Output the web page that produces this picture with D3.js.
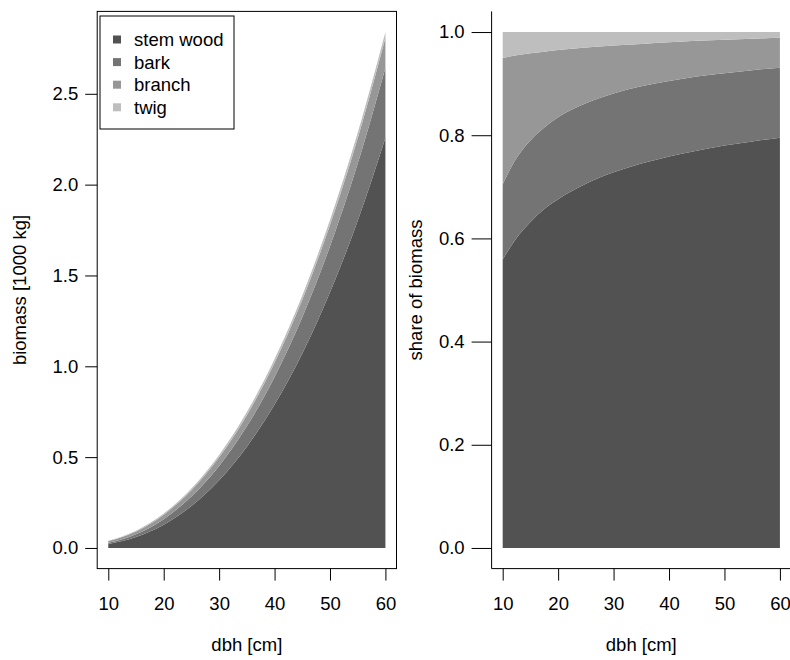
<!DOCTYPE html>
<html>
<head>
<meta charset="utf-8">
<script src="https://cdn.jsdelivr.net/npm/d3@7"></script>
<style>
  html, body { margin: 0; padding: 0; background: #fff; }
  svg { display: block; font-family: "Liberation Sans", Arial, Helvetica, sans-serif; }
</style>
</head>
<body>
<svg id="chart" width="790" height="660"></svg>
<script>
// ---- data ----
const dbh            = [10, 12.5, 15, 17.5, 20, 25, 30, 35, 40, 45, 50, 55, 60];
// total above-ground biomass [1000 kg]
const totalBiomass   = [0.040, 0.063, 0.095, 0.137, 0.190, 0.328, 0.512, 0.748, 1.040, 1.390, 1.805, 2.285, 2.840];
// share of each compartment in total biomass
const stemWoodShare  = [0.559, 0.601, 0.632, 0.657, 0.676, 0.706, 0.728, 0.745, 0.759, 0.770, 0.780, 0.788, 0.795];
const barkShare      = [0.146, 0.155, 0.158, 0.158, 0.159, 0.156, 0.153, 0.150, 0.146, 0.144, 0.140, 0.138, 0.136];
const branchShare    = [0.245, 0.199, 0.169, 0.147, 0.130, 0.108, 0.093, 0.082, 0.075, 0.069, 0.065, 0.061, 0.058];
const twigShare      = [0.050, 0.045, 0.041, 0.038, 0.035, 0.030, 0.026, 0.023, 0.020, 0.017, 0.015, 0.013, 0.011];
const seriesNames  = ["stem wood", "bark", "branch", "twig"];
const seriesColors = ["#525252", "#747474", "#979797", "#bebebe"];
const xTicks = [10, 20, 30, 40, 50, 60];
const yTicksLeft = [0, 0.5, 1, 1.5, 2, 2.5];
const yTicksLeftLabels = ["0.0", "0.5", "1.0", "1.5", "2.0", "2.5"];
const yTicksRight = [0, 0.2, 0.4, 0.6, 0.8, 1];
const yTicksRightLabels = ["0.0", "0.2", "0.4", "0.6", "0.8", "1.0"];

(function () {
const shares = [stemWoodShare, barkShare, branchShare, twigShare];
const absRows = dbh.map((d, i) => {
  const r = { dbh: d };
  seriesNames.forEach((k, j) => { r[k] = shares[j][i] * totalBiomass[i]; });
  return r;
});
const relRows = dbh.map((d, i) => {
  const r = { dbh: d };
  seriesNames.forEach((k, j) => { r[k] = shares[j][i]; });
  return r;
});

const svg = d3.select("#chart");
const FS = 18.5;

// ---------- panel geometry ----------
const pTop = 11.4, pBottom = 568.6;
const L = { left: 97.2, right: 396.5 };
const R = { left: 491.6, right: 791 };

const xr = d3.extent(dbh), xpad = 0.04 * (xr[1] - xr[0]);
const xL = d3.scaleLinear().domain([xr[0] - xpad, xr[1] + xpad]).range([L.left, L.right]);
const xR = d3.scaleLinear().domain([xr[0] - xpad, xr[1] + xpad]).range([R.left, R.right]);

const stackAbs = d3.stack().keys(seriesNames)(absRows);
const ymax = d3.max(stackAbs[stackAbs.length - 1], d => d[1]);
const yL = d3.scaleLinear().domain([-0.04 * ymax, ymax * 1.04]).range([pBottom, pTop]);
const yR = d3.scaleLinear().domain([-0.04, 1.04]).range([pBottom, pTop]);

const stackRel = d3.stack().keys(seriesNames).offset(d3.stackOffsetExpand)(relRows);

// ---------- left panel areas ----------
const areaL = d3.area()
  .x(d => xL(d.data.dbh)).y0(d => yL(d[0])).y1(d => yL(d[1]))
  .curve(d3.curveMonotoneX);
svg.append("g").selectAll("path").data(stackAbs).join("path")
  .attr("d", areaL).attr("fill", (d, i) => seriesColors[i]).attr("stroke", "none");

// ---------- right panel areas ----------
const areaR = d3.area()
  .x(d => xR(d.data.dbh)).y0(d => yR(d[0])).y1(d => yR(d[1]))
  .curve(d3.curveMonotoneX);
svg.append("g").selectAll("path").data(stackRel).join("path")
  .attr("d", areaR).attr("fill", (d, i) => seriesColors[i]).attr("stroke", "none");

// ---------- left box ----------
svg.append("rect")
  .attr("x", L.left).attr("y", pTop).attr("width", L.right - L.left).attr("height", pBottom - pTop)
  .attr("fill", "none").attr("stroke", "#000").attr("stroke-width", 1);

// ---------- right L-shaped frame ----------
svg.append("path")
  .attr("d", `M${R.left},${pTop}V${pBottom}H${R.right}`)
  .attr("fill", "none").attr("stroke", "#000").attr("stroke-width", 1);

// ---------- axes ----------
function xAxis(x) {
  const g = svg.append("g")
    .attr("transform", `translate(0,${pBottom})`)
    .call(d3.axisBottom(x).tickValues(xTicks).tickSize(12).tickPadding(16).tickFormat(d3.format("d")));
  g.select(".domain").remove();
  g.selectAll("text").attr("font-size", FS).attr("fill", "#000").attr("font-family", null);
  g.selectAll("line").attr("stroke", "#000");
}
xAxis(xL);
xAxis(xR);

function yAxis(y, xPos, ticks, labels, len) {
  const g = svg.append("g")
    .attr("transform", `translate(${xPos},0)`)
    .call(d3.axisLeft(y).tickValues(ticks).tickSize(len).tickPadding(7)
      .tickFormat((d, i) => labels[i]));
  g.select(".domain").remove();
  g.selectAll("text").attr("font-size", FS).attr("fill", "#000").attr("font-family", null);
  g.selectAll("line").attr("stroke", "#000");
}
yAxis(yL, L.left, yTicksLeft, yTicksLeftLabels, 12);
yAxis(yR, R.left, yTicksRight, yTicksRightLabels, 20);

// ---------- axis titles ----------
svg.append("text").attr("x", (L.left + L.right) / 2).attr("y", 651)
  .attr("text-anchor", "middle").attr("font-size", FS).text("dbh [cm]");
svg.append("text").attr("x", (R.left + R.right) / 2).attr("y", 651)
  .attr("text-anchor", "middle").attr("font-size", FS).text("dbh [cm]");
svg.append("text").attr("transform", `translate(26,${(pTop + pBottom) / 2}) rotate(-90)`)
  .attr("text-anchor", "middle").attr("font-size", FS).text("biomass [1000 kg]");
svg.append("text").attr("transform", `translate(422,${(pTop + pBottom) / 2}) rotate(-90)`)
  .attr("text-anchor", "middle").attr("font-size", FS).text("share of biomass");

// ---------- legend ----------
const lg = svg.append("g");
lg.append("rect").attr("x", 100).attr("y", 16).attr("width", 134).attr("height", 113)
  .attr("fill", "#fff").attr("stroke", "#000").attr("stroke-width", 1);
seriesNames.forEach((name, i) => {
  const cy = 39.5 + i * 22.6;
  lg.append("rect").attr("x", 113).attr("y", cy - 4).attr("width", 8).attr("height", 8)
    .attr("fill", seriesColors[i]);
  lg.append("text").attr("x", 134).attr("y", cy).attr("dy", "0.35em")
    .attr("font-size", FS).text(name);
});
})();
</script>
</body>
</html>
